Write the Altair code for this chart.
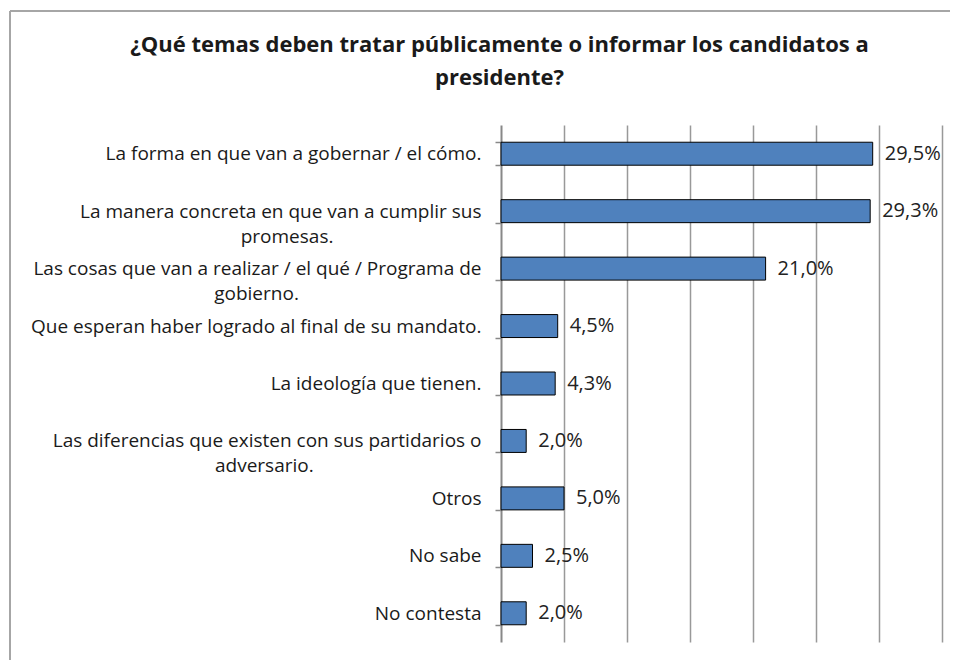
import altair as alt
import pandas as pd

title_lines = ["¿Qué temas deben tratar públicamente o informar los candidatos a", "presidente?"]

categories = [
    "La forma en que van a gobernar / el cómo.",
    "La manera concreta en que van a cumplir sus|promesas.",
    "Las cosas que van a realizar / el qué / Programa de|gobierno.",
    "Que esperan haber logrado al final de su mandato.",
    "La ideología que tienen.",
    "Las diferencias que existen con sus partidarios o|adversario.",
    "Otros",
    "No sabe",
    "No contesta",
]
values = [29.5, 29.3, 21.0, 4.5, 4.3, 2.0, 5.0, 2.5, 2.0]
grid_values = [5, 10, 15, 20, 25, 30, 35]

df = pd.DataFrame({"tema": categories, "valor": values})

FONT = "Open Sans"
NB = "\u00a0"
WJ = "\u2060"

L1 = "split(datum.label,'|')[0]"
L2 = "split(datum.label,'|')[1]"
# second line of a wrapped label is centred under the first one
label_expr = (
    "length(split(datum.label,'|'))>1 ? "
    "[" + L1 + ", "
    "pad(" + L2 + ", length(" + L2 + ") + floor(0.9*(length(" + L1 + ")-length(" + L2 + "))), '" + NB + "') + '" + WJ + "']"
    " : datum.label"
)

y_enc = alt.Y(
    "tema:N",
    sort=None,
    title=None,
    scale=alt.Scale(paddingInner=0.6, paddingOuter=0.3),
    axis=alt.Axis(
        labelExpr=label_expr,
        labelFont=FONT,
        labelFontSize=19,
        labelColor="#1a1a1a",
        labelLineHeight=25,
        labelPadding=14,
        labelLimit=0,
        tickBand="extent",
        tickSize=6,
        tickColor="#888888",
        tickWidth=1.5,
        domainColor="#888888",
        domainWidth=2,
        grid=False,
    ),
)

x_enc = alt.X(
    "valor:Q",
    title=None,
    scale=alt.Scale(domain=[0, 35], nice=False),
    axis=alt.Axis(
        values=grid_values,
        labels=False,
        ticks=False,
        domain=False,
        grid=True,
        gridColor="#999999",
        gridWidth=1.5,
    ),
)

bars = alt.Chart(df).mark_bar(
    color="#4F81BD", stroke="#000000", strokeWidth=1
).encode(x=x_enc, y=y_enc)

texts = alt.Chart(df).transform_calculate(
    txt="replace(format(datum.valor, '.1f'), '.', ',') + '%'"
).mark_text(
    align="left", baseline="middle", dx=12, font=FONT, fontSize=20, color="#222222"
).encode(x="valor:Q", y=alt.Y("tema:N", sort=None), text="txt:N")

frame_data = alt.Data(values=[{"f": 1}])
frame_top = alt.Chart(frame_data).mark_rule(color="#a6a6a6", strokeWidth=2).encode(
    x=alt.value(-491), x2=alt.value(470), y=alt.value(-114)
)
frame_left = alt.Chart(frame_data).mark_rule(color="#a6a6a6", strokeWidth=2).encode(
    x=alt.value(-491), y=alt.value(-114), y2=alt.value(560)
)

chart = alt.layer(frame_top, frame_left, bars, texts).properties(
    width=441,
    height=517,
    autosize=alt.AutoSizeParams(type="none"),
    padding={"left": 493, "top": 117, "right": 8, "bottom": 18},
    title=alt.TitleParams(
        text=title_lines,
        font=FONT,
        fontSize=22,
        fontWeight="bold",
        color="#1a1a1a",
        anchor="middle",
        dx=-222,
        offset=-80,
        lineHeight=33,
    ),
).configure_view(stroke=None)

chart.save("out.html", embed_options={"renderer": "svg", "actions": False})
